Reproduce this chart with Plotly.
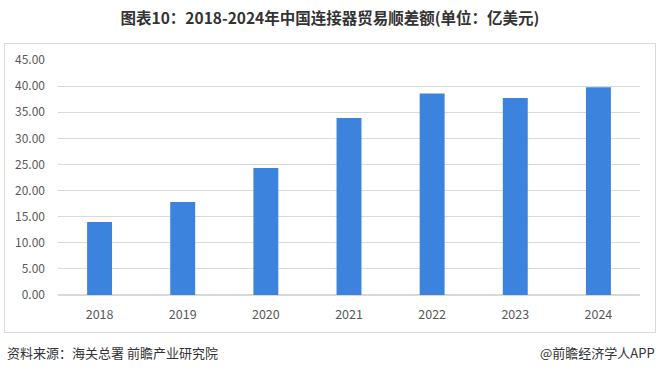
import plotly.graph_objects as go

years = ["2018", "2019", "2020", "2021", "2022", "2023", "2024"]
surplus = [14.0, 17.8, 24.3, 33.9, 38.6, 37.7, 39.8]
ytick_vals = [0, 5, 10, 15, 20, 25, 30, 35, 40, 45]
ytick_text = ["%.2f" % v for v in ytick_vals]

title_text = "<b>图表10：2018-2024年中国连接器贸易顺差额(单位：亿美元)</b>"
source_text = "资料来源：海关总署 前瞻产业研究院"
brand_text = "@前瞻经济学人APP"

W, H = 660, 373
L, R, T, B = 58, 20, 60, 78
pw = W - L - R
ph = H - T - B

def px_x(x):
    return (x - L) / pw

def px_y(y):
    return (H - B - y) / ph

fig = go.Figure(go.Bar(
    x=years, y=surplus, width=0.3,
    marker=dict(color="#3C83DE", line=dict(width=0)),
))

fig.update_layout(
    width=W, height=H,
    margin=dict(l=L, r=R, t=T, b=B),
    paper_bgcolor="white", plot_bgcolor="white",
    font=dict(family="Noto Sans CJK SC, sans-serif", color="#595959", size=12),
    showlegend=False,
    title=dict(text=title_text, x=0.5, xanchor="center", y=1 - 19 / H, yanchor="middle",
               yref="container", font=dict(size=15.5, color="#333333")),
    xaxis=dict(showgrid=False, showline=False, ticks="", ticklabelstandoff=10,
               tickfont=dict(size=12.5, color="#595959")),
    yaxis=dict(range=[0, 45], tickvals=ytick_vals, ticktext=ytick_text,
               showgrid=True, gridcolor="#D9D9D9", gridwidth=1, zeroline=True,
               zerolinecolor="#D9D9D9", showline=False, ticks="", ticklabelstandoff=12,
               tickfont=dict(size=12, color="#595959")),
    shapes=[dict(type="rect", xref="paper", yref="paper",
                 x0=px_x(4.5), x1=px_x(655.5), y0=px_y(332.5), y1=px_y(43.5),
                 line=dict(color="#D9D9D9", width=1), fillcolor="rgba(0,0,0,0)", layer="below")],
    annotations=[
        dict(text=source_text, xref="paper", yref="paper", x=px_x(5), xanchor="left",
             y=px_y(352), yanchor="middle", showarrow=False,
             font=dict(size=13, color="#333333")),
        dict(text=brand_text, xref="paper", yref="paper", x=px_x(657), xanchor="right",
             y=px_y(352), yanchor="middle", showarrow=False,
             font=dict(size=13, color="#333333")),
    ],
)

fig.write_html("out.html")
